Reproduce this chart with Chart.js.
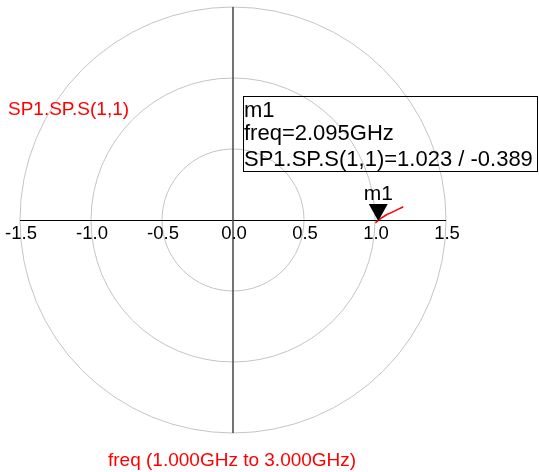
<!DOCTYPE html>
<html>
<head>
<meta charset="utf-8">
<script src="https://cdn.jsdelivr.net/npm/chart.js@4/dist/chart.umd.min.js"></script>
<style>
  body { margin: 0; background: #fff; }
  #wrap { width: 539px; height: 472px; position: relative; }
</style>
</head>
<body>
<div id="wrap"><canvas id="polarChart"></canvas></div>
<script>
const traceRe = [1.003, 1.015, 1.030, 1.048, 1.070, 1.092, 1.112, 1.130, 1.150, 1.172, 1.199];
const traceIm = [-0.020, -0.010, 0.003, 0.016, 0.030, 0.042, 0.051, 0.059, 0.069, 0.080, 0.093];

// marker m1
const markerName = 'm1';
const markerMag = 1.023;
const markerDeg = -0.389;
const markerLines = ['m1', 'freq=2.095GHz', 'SP1.SP.S(1,1)=1.023 / -0.389'];

// polar grid and axis labels
const circleRadii = [0.5, 1.0, 1.5];
const tickValues = [-1.5, -1.0, -0.5, 0.0, 0.5, 1.0, 1.5];
const tickLabels = ['-1.5', '-1.0', '-0.5', '0.0', '0.5', '1.0', '1.5'];
const traceName = 'SP1.SP.S(1,1)';
const sweepLabel = 'freq (1.000GHz to 3.000GHz)';

const points = traceRe.map((re, i) => ({ x: re, y: traceIm[i] }));
const rad = markerDeg * Math.PI / 180;
const markerPt = { x: markerMag * Math.cos(rad), y: markerMag * Math.sin(rad) };

const font = '"Liberation Sans", Arial, sans-serif';

// draws the polar grid, axes, labels and marker
const polarDecor = {
    id: 'polarDecor',
    beforeDatasetsDraw(chart) {
        const ctx = chart.ctx;
        const xs = chart.scales.x, ys = chart.scales.y;
        const cx = xs.getPixelForValue(0), cy = ys.getPixelForValue(0);
        ctx.save();
        ctx.strokeStyle = '#c4c4c4';
        ctx.lineWidth = 1;
        circleRadii.forEach(r => {
            const pr = xs.getPixelForValue(r) - cx;
            ctx.beginPath();
            ctx.arc(cx, cy, pr, 0, Math.PI * 2);
            ctx.stroke();
        });
        // axes
        ctx.strokeStyle = '#000';
        ctx.beginPath();
        ctx.moveTo(xs.getPixelForValue(-1.5), Math.round(cy) + 0.5);
        ctx.lineTo(xs.getPixelForValue(1.5), Math.round(cy) + 0.5);
        ctx.stroke();
        ctx.strokeStyle = '#444';
        ctx.lineWidth = 1.5;
        ctx.beginPath();
        ctx.moveTo(cx, ys.getPixelForValue(1.5));
        ctx.lineTo(cx, ys.getPixelForValue(-1.5));
        ctx.stroke();
        // tick labels
        ctx.fillStyle = '#000';
        ctx.font = '18.5px ' + font;
        ctx.textAlign = 'center';
        ctx.textBaseline = 'alphabetic';
        tickValues.forEach((v, i) => {
            ctx.fillText(tickLabels[i], xs.getPixelForValue(v) + 1, cy + 19);
        });
        // trace / sweep labels
        ctx.fillStyle = '#ff0000';
        ctx.font = '19px ' + font;
        ctx.textAlign = 'left';
        ctx.fillText(traceName, 8, 115);
        ctx.fillText(sweepLabel, 108, 466);
        // marker readout box
        ctx.strokeStyle = '#000';
        ctx.lineWidth = 1;
        ctx.strokeRect(243.5, 96.5, 294, 75);
        ctx.fillStyle = '#000';
        ctx.font = '22px ' + font;
        const base = [117, 140, 166];
        markerLines.forEach((t, i) => ctx.fillText(t, 244, base[i]));
        ctx.restore();
    },
    afterDatasetsDraw(chart) {
        const ctx = chart.ctx;
        const px = chart.scales.x.getPixelForValue(markerPt.x);
        const py = chart.scales.y.getPixelForValue(markerPt.y);
        ctx.save();
        ctx.fillStyle = '#000';
        ctx.beginPath();
        ctx.moveTo(px, py);
        ctx.lineTo(px - 9.5, py - 17);
        ctx.lineTo(px + 9.5, py - 17);
        ctx.closePath();
        ctx.fill();
        ctx.font = '21px ' + font;
        ctx.textAlign = 'center';
        ctx.fillText(markerName, px, py - 21);
        ctx.restore();
    }
};

new Chart(document.getElementById('polarChart'), {
    type: 'scatter',
    data: {
        datasets: [{
            label: traceName,
            data: points,
            showLine: true,
            borderColor: '#ff0000',
            borderWidth: 1.5,
            pointRadius: 0,
            tension: 0.3
        }]
    },
    options: {
        responsive: true,
        maintainAspectRatio: false,
        animation: false,
        layout: { padding: { left: 20, right: 93, top: 7, bottom: 39 } },
        plugins: { legend: { display: false }, tooltip: { enabled: false } },
        scales: {
            x: { type: 'linear', min: -1.5, max: 1.5, display: false },
            y: { type: 'linear', min: -1.5, max: 1.5, display: false }
        }
    },
    plugins: [polarDecor]
});
</script>
</body>
</html>
